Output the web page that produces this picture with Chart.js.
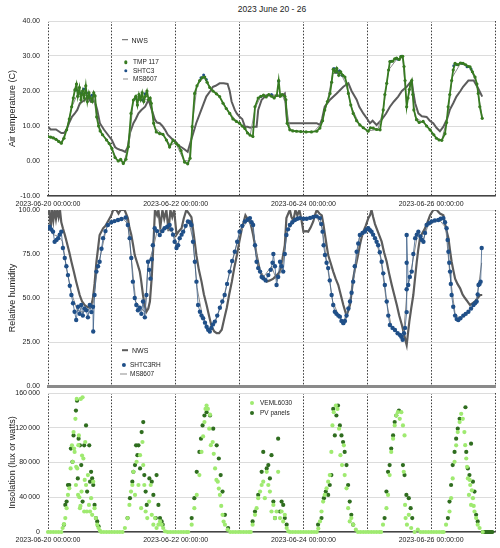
<!DOCTYPE html>
<html><head><meta charset="utf-8">
<script src="https://cdn.jsdelivr.net/npm/chart.js@4.4.1/dist/chart.umd.min.js"></script>
<style>
html,body{margin:0;padding:0;background:#fff;}
body{width:500px;height:548px;position:relative;overflow:hidden;font-family:"Liberation Sans",Arial,sans-serif;color:#222;}
canvas{position:absolute;left:0;}
.lab{position:absolute;white-space:nowrap;line-height:1;font-size:6.5px;transform:translateY(-50%);color:#222;}
.dot{position:absolute;border-radius:50%;transform:translate(-50%,-50%);}
.ln{position:absolute;transform:translateY(-50%);}
#title{position:absolute;top:4.5px;left:0;width:544px;text-align:center;font-size:8.5px;line-height:1;}
</style></head>
<body>
<div id="title">2023 June 20 - 26</div>
<canvas id="c1" width="500" height="212" style="top:0px"></canvas>
<canvas id="c2" width="500" height="185" style="top:205px"></canvas>
<canvas id="c3" width="500" height="160" style="top:388px"></canvas>
<script>
// ---- tick labels (one per day, hours since 2023-06-20 00:00) ----
const dayLabels = ['2023-06-20 00:00:00','','2023-06-22 00:00:00','','2023-06-24 00:00:00','','2023-06-26 00:00:00',''];

// ---- Air temperature (C), [hour, value] ----
const tmp117 = [[0,7],[1,6.8],[2,6.6],[3,6.2],[4,5.6],[5,5.1],[6,6.5],[7,8.9],[8,12],[8.9,15.5],[9.5,18],[10.1,20.3],[10.7,22],[11.2,18.5],[11.8,21],[12.4,17.5],[13,20],[13.6,18],[14.2,21.5],[14.8,17],[15.4,19.5],[16,18],[16.6,17],[17.2,19.5],[17.7,18.6],[18.3,12.6],[19,10],[19.6,8.6],[20.5,7.5],[22,6],[23,5],[24,3.6],[25.2,1],[26.4,0],[27.3,0.5],[28.3,-0.7],[29.3,0.5],[30.2,4.1],[31.2,13.6],[32.1,17.4],[33,18.5],[33.6,16],[34.2,19],[34.8,17.5],[35.4,19.5],[36,17],[36.6,18.5],[37.2,20],[37.8,17.5],[38.4,18],[38.8,16.5],[39.7,10.8],[40.7,8.3],[42,7.8],[43.2,7.6],[44.5,6],[45.7,4],[47,6],[48.2,5],[49,4.5],[50,3],[51.3,-0.3],[52.5,-0.8],[53.4,0.8],[54.2,9.8],[55.1,19.3],[56,21.5],[57,23],[58,23.8],[58.9,24],[59.8,22.5],[60.8,21],[62,20],[63.3,19.2],[64.5,18.4],[65.8,16.5],[67,15],[68.3,13.6],[69.5,12],[70.8,11.3],[72,10.8],[73,10],[74,9.3],[75,8],[75.9,7.4],[77,7],[77.8,15.5],[79,18],[80,18.5],[81,18.8],[82,18.3],[83,19],[84,18.5],[85,18],[86,18.8],[86.7,23],[87.3,18.5],[88,19],[89,18.5],[89.4,17.5],[89.9,10.8],[90.9,8.9],[92,8.6],[93.4,8.5],[95,8.4],[97,8.3],[99,8.3],[101,8.5],[102.2,9.4],[103.2,11.5],[104,14.6],[105,17],[106,19.3],[106.6,22.5],[107.2,26.2],[108,25.5],[108.5,26.5],[109.3,24.5],[110,25.5],[110.8,24.5],[111.6,24],[112.3,22],[112.9,19.3],[113.8,16],[114.7,13.6],[116,11.5],[117.2,10.3],[118.5,9.5],[120.3,8.5],[121.2,9.5],[122.2,9.4],[123.5,9],[124.8,8.9],[126,14.6],[126.6,19],[127.3,22.2],[128,26],[128.5,28.4],[129.5,28.5],[130.3,29.2],[131,29.4],[132,29],[132.6,29.8],[133.3,29.9],[133.8,27],[134.2,23],[134.8,15.5],[135.3,18],[135.8,20.4],[136.2,22],[136.7,23],[137.1,19],[137.5,14.6],[138.5,11.8],[139.5,11],[141,11.3],[142.3,10],[143.6,8.9],[145,7.5],[146,6.5],[147,6],[148,5.9],[149.2,7.8],[149.8,11],[150.4,15.5],[151,19],[151.7,23],[152.3,26],[153,27.9],[154,27.5],[155,28],[156,27.9],[157,27.5],[158,27],[158.6,26.9],[159.5,25.5],[160.5,24],[161.2,22],[161.7,19.3],[162.3,15.5],[163.2,12.2]];
const shtc3Temp = [[10.5,20.3],[11.5,19.8],[12.5,19.3],[13.5,20.6],[14.5,19.4],[15.5,18.4],[16.5,18.8],[33,17.9],[34.5,18.4],[35.5,17.4],[36.5,19.2],[57.5,23.8],[58.5,24.6],[59.5,23.3],[80,18.4],[84,19],[86.7,22.8],[107.5,26.4],[108.5,25.4],[109.5,25.8],[110.5,24.5],[129,28.5],[131.5,29.1],[132.8,29.9],[152.5,27.2],[153.5,27.6],[155.5,27.9],[157.5,26.9],[159,26.3]];
const ms8607Temp = [[0,7.2],[3,6.4],[5,5.3],[7,9],[9,15.5],[11,19],[13,19],[15,18.5],[17,18.5],[18.5,12],[20,8.2],[23,5.2],[26,0.3],[28.5,-0.4],[30.5,5],[32,17],[34,18.5],[36,17.5],[38.5,17.5],[40,9.5],[43,7.8],[46,4.5],[48,5.2],[51,0.2],[53,0],[54.5,12],[56,21.5],[58.5,24],[61,21],[64,18.8],[68,14],[71,11.3],[74,9.3],[76,7.4],[77.8,15],[80,18.5],[84,18.6],[88,18.9],[89.5,16],[91,8.9],[95,8.4],[100,8.4],[103,11],[105,17],[107,25],[110,25],[112,22],[114,15.5],[117,10.5],[120,8.6],[124,9],[126,14.6],[128,26],[131,29],[133.3,29.5],[134.8,16],[136.5,22.5],[138,12.5],[142,10.5],[146,6.5],[148,6],[150,12],[152,24],[155,27.8],[158.5,26.8],[161,22.5],[163.2,12.5]];
const nwsTemp = [[0,9.8],[1,9],[2,9],[3,9],[4,8.5],[5,8],[6,8],[7,9],[8,11],[9,12.6],[10,13.5],[11,14.6],[12,16.5],[13,17],[14,17.5],[15,18.4],[16,17],[17,17.5],[18,16],[18.5,14.6],[19.5,10.8],[21,9],[22,8],[23,7],[24,6],[25.2,4],[26,3.5],[27,3.2],[28,3],[29,2.6],[30,4],[30.8,8],[32.1,10.8],[33,12],[34,13.6],[35,14.5],[36.5,15.5],[37.8,17.5],[39,14.6],[40.2,11.8],[41,11],[42,10.8],[43,10],[44,8.9],[45,7.5],[45.7,7],[47,6],[48,5.5],[49,4.5],[50,4],[51,3.5],[52.5,2.6],[53.8,6],[54.8,8.5],[55.7,10.8],[57.6,14.6],[59.5,18.4],[61,20],[62,21.2],[63,21.5],[64.5,22.2],[66,22.2],[67.5,22],[68.3,20],[69,17],[70.2,14.6],[71,13.5],[72,12.6],[73,12],[74,9.8],[75,9.8],[76,9.5],[77,9.8],[78.4,9.8],[79,14.6],[80.3,17.5],[82,18.8],[84,18.8],[86,18.6],[88.2,18.8],[89,19.3],[89.9,10.8],[92,10.8],[95,10.8],[98,10.8],[101,10.8],[102.2,10.3],[103,12],[104,15.5],[106,17.5],[108.5,19.3],[111,21.2],[112.9,22.2],[114.1,20],[116,17.5],[117,15.5],[118.5,13.6],[120,12],[121,10.8],[122,11.5],[123.5,10.3],[125.4,11.8],[127,13.5],[128.5,15.5],[130,17],[131.6,18.4],[133,20],[134.8,21.2],[136.7,23],[137.2,20],[138,16.5],[139.2,13.6],[140.5,12.8],[142.3,12.6],[143.5,11.5],[144.8,10.8],[146,9.5],[147.3,8.5],[148.6,9.8],[150,12],[151,14.6],[152.3,16.5],[153.5,18.4],[155,20],[156,21.2],[158,23],[160,23],[161.7,20.7],[163.2,18.4]];

// ---- Relative humidity (%), [hour, value] ----
const shtc3RH = [[0,89.6],[0.6,90.5],[1.2,89],[1.9,87.7],[2.5,82],[3.2,83],[3.8,84],[4.4,86],[5,87.7],[5.6,78.4],[6.3,72.7],[6.9,68],[7.5,63],[8.2,57],[8.8,51.7],[9.4,47],[10,42.2],[10.6,37.5],[11.3,45],[11.9,41],[12.5,46],[13.1,40],[13.7,44],[14.4,43],[15,39],[15.7,46],[16.3,42],[16.9,45],[17,31],[17.5,51.7],[18.2,65],[18.8,68],[19.4,70.6],[20.1,78],[20.7,84],[21.6,88],[22.5,91.5],[23.8,93],[25,93.7],[26.3,94.3],[27.6,94.9],[29.2,95.7],[30,91.5],[30.7,84],[31.3,72.7],[31.9,59.3],[32.6,50],[33.2,46],[33.8,43],[34.5,44.5],[35.1,41],[35.7,48],[36.4,39],[37,51.7],[37.6,70.6],[38,66],[38.5,61],[39,72],[39.4,80],[40.1,89.6],[41,88],[42,85.8],[43,88],[43.8,89.6],[44.8,90.5],[45.7,91.5],[46.4,89],[47,86],[47.6,82],[48.3,78.4],[48.9,80],[49.5,84],[50.2,86],[50.8,87.7],[51.7,91],[52.6,93.5],[53.3,93],[53.9,91.5],[54.5,82],[55.2,70.6],[55.8,59.3],[56.4,46],[57.1,42.2],[57.7,40],[58.3,38.5],[59,36],[59.6,33.7],[60.2,32],[60.8,30.9],[61.4,33],[62,35],[62.7,36.6],[63.6,40],[64.6,44.5],[65.5,48],[66.4,51.7],[67.3,58],[68.3,65],[69.2,71],[70.2,76.3],[71.1,82],[72,87.7],[73,91],[74,93.5],[75,94.5],[75.9,95.4],[76.5,93],[77.1,91.5],[77.8,80],[78.4,70.6],[79,67],[79.7,65],[80.3,62],[80.9,61.2],[81.8,60],[82.8,63],[83.7,66],[84.4,70],[84.7,75],[85.3,68],[85.9,57.4],[86.5,62],[87.2,70.6],[87.8,68],[88.4,65],[89,75],[89.6,85.8],[90.2,89],[90.9,91.5],[91.8,93],[92.8,94.3],[93.7,95],[94.6,95.4],[96,95],[97.2,95],[98.5,95.5],[99.7,96],[101,96.4],[102.2,95.4],[102.7,92],[103.2,87.7],[103.6,80],[104.1,74.4],[104.7,70],[105.3,67],[105.9,60],[106.6,51.7],[107.2,46],[107.8,42.2],[108.4,41],[109.1,40],[109.7,39.4],[110.3,37],[111,35.7],[111.6,37],[112.2,40],[112.9,44],[113.5,48],[114.1,53],[114.7,59.3],[115.3,68],[116,76.3],[116.6,81],[117.2,85.8],[118.2,87],[119.1,87.7],[119.7,89],[120.4,89.6],[121,88.5],[121.6,87.7],[122.2,86],[122.9,84],[123.5,82],[124.1,80],[124.7,76],[125.4,70.6],[126,64],[126.6,57.4],[127.3,48],[127.9,40],[128.5,34.7],[129.5,33],[130.4,31.8],[131.4,30],[132.3,29],[132.8,28],[133.3,26.3],[133.8,30],[134.2,33],[134.8,42],[134.8,55],[134.8,70],[134.8,85.8],[135.4,57.4],[136,62],[136.7,65],[137.3,75],[138,84],[138.6,86],[139.2,87.7],[140,85],[140.5,83],[141.1,82],[141.7,87],[142.3,91.5],[143.2,92.5],[144.2,93.5],[145.4,94],[146.7,94.3],[147.6,95],[148.6,95.4],[149.2,93],[149.8,89.6],[150.2,83],[150.5,76.3],[150.8,70],[151.1,65],[151.4,58],[151.7,51.7],[152.3,45],[153,40],[153.6,38],[154.2,37.5],[155,38.5],[156.1,40],[157,41],[158,42.2],[159,44],[159.9,46],[160.5,47],[161.1,48],[161.5,52],[161.8,57.4],[162.2,58],[162.6,59.3],[163,78.4]];
const ms8607RH = [[0,90],[2,86],[4,85],[5.5,82],[7,66],[9,52],[11,43],[13,42],[15,43],[17,47],[18.5,66],[20,76],[22,90],[25,94],[28,95.5],[30,92],[31.5,70],[33,48],[35,44],[36.5,42],[37.5,68],[39.5,78],[41,88],[44,90],[47,87],[48.5,80],[50.5,87],[53,93],[54.5,83],[56,56],[58,40],[60.5,32],[63,37],[66,50],[68,63],[70,75],[72,87],[75,94],[77,90],[79,68],[81,62],[84,68],[86,60],[88,67],[90,88],[93,94.5],[97,95],[101,96],[103,90],[105,68],[107,48],[109,41],[111,36],[113,45],[115,62],[117,84],[120,89],[123,84],[125,73],[127,50],[129,34],[132,29],[133.5,27],[135,55],[137,70],[139,87],[141,83],[143,92],[147,94.5],[149.5,90],[151,64],[153,41],[155,38],[158,42],[161,48],[163,70]];
const nwsRH = [[0,98],[0.5,100],[1,89.6],[1.5,100],[2,94],[2.5,100],[3,95],[3.5,100],[4,96],[4.5,100],[5,93],[5.6,89.6],[6.3,86],[7,82],[8,76],[8.8,70.6],[9.7,65],[10.6,59.3],[11.9,51.7],[12.8,48],[13.8,46],[14.7,45],[15.7,44.5],[16.3,46],[16.9,50],[17.5,58],[18.2,70.6],[18.8,78],[19.4,85.8],[20.7,89.6],[21.6,91],[22.5,93.5],[23.8,97],[24.5,100],[25.7,100],[26.5,98],[27.3,100],[28.8,100],[30,95.4],[30.6,90],[31.3,86],[32,80],[32.6,74.4],[33.5,70],[34.5,65],[35,60],[35.7,51.7],[36.3,46],[37,42.2],[37.7,44],[38.3,48],[39,62],[39.6,80],[40.2,100],[41,97],[41.5,100],[42.2,90],[43,100],[43.7,95],[44.5,100],[45.3,88],[46,100],[46.7,96],[47.4,100],[48.3,86],[49.2,88],[50.2,89.6],[51,95],[52,100],[53,98],[53.9,96],[54.8,86],[55.8,74],[56.7,66],[57.7,59.3],[58.6,52],[59.6,46],[60.5,40],[61.5,33.7],[62.5,31],[63.4,30],[64.3,30],[65.3,32],[66.2,38],[67.2,44.5],[68.1,52],[69.1,59.3],[70,67],[71,74.4],[71.9,82],[72.9,89.6],[74.2,97],[75,95],[75.9,93.5],[76.5,90],[77.1,85.8],[77.8,80],[78.4,74.4],[79,70],[79.7,65],[80.9,62],[82.2,59.3],[83.4,60],[84.7,61],[86,63],[87.2,65],[88.1,72],[89,80],[89.6,95.4],[90.3,98],[90.9,100],[91.5,96],[92.2,94],[93,100],[93.7,97],[94.5,100],[95.3,94],[96,87.7],[97,88],[97.8,87.7],[98.7,90],[99.7,93.5],[100.3,97],[101,100],[102,98],[102.9,97],[103.5,92],[104.1,86],[104.7,80],[105.3,74.4],[106.2,70],[107.2,65],[108.1,61],[109.1,57.4],[110,52],[111,46],[111.6,43],[112.2,40],[112.9,43],[113.5,46],[114.1,53],[114.7,61],[115.3,66],[116,70.6],[116.6,75],[117.2,80],[117.8,84],[118.5,87.7],[119.4,91],[120.4,95.4],[121,97],[121.6,100],[122.2,96],[122.9,92],[123.5,89.6],[124.4,86],[125.4,82],[126.3,76],[127.3,70.6],[128.2,64],[129.2,57.4],[130.1,52],[131.1,46],[132,40],[133,34.7],[133.9,29],[134.5,25],[134.8,23.3],[135.3,30],[135.8,36.6],[136.5,44],[137.3,51.7],[138,62],[138.6,70.6],[139.2,78],[139.8,84],[140.7,87],[141.7,89.6],[142.6,93],[143.6,97],[144.8,100],[146.1,100],[147.3,98],[148.6,97],[149.5,90],[150.5,84],[151.1,77],[151.7,70.6],[152.3,66],[153,61],[153.9,58],[154.9,55.5],[155.8,52],[156.7,50],[157.7,48],[158.6,46],[159.5,47],[160.5,48],[161.5,50],[162.4,51.7],[163.2,51.7]];

// ---- Insolation (lux or watts), [hour, value] ----
const veml6030 = [[0,0],[1,0],[2,0],[3,0],[4,0],[5,0],
[5.5,4600],[6,9000],[6.5,16000],[7,27400],[7.5,42700],[8,50300],[8.5,73200],[9,99800],[9.3,80800],[9.6,115000],[9.8,96000],[10,92200],[10.3,130300],[10.5,54100],[10.6,75000],[10.8,153200],[11,73200],[11.3,42700],[11.4,100000],[11.6,111200],[11.8,40000],[12,27400],[12.2,30000],[12.3,153200],[12.6,46500],[12.8,88000],[13,155000],[13.3,84600],[13.6,23600],[13.8,60000],[14,103600],[14.3,54100],[14.6,23600],[15,65500],[15.4,31200],[15.8,23600],[16.2,38900],[16.6,19800],[17,57900],[17.5,27400],[18,16000],[18.5,8400],[19,4600],[19.5,1500],
[20,0],[21,0],[22,0],[23,0],[24,0],[25,0],[26,0],[27,0],[28,0],
[28.9,4600],[29.9,16000],[30.6,31200],[31.2,46500],[31.7,54100],[32.1,69300],[32.7,42700],[33.3,80800],[34,54100],[34.6,88400],[35,27400],[35.5,103600],[35.8,77000],[36.2,54100],[36.7,23600],[37.3,16000],[38,35000],[38.6,54100],[39,19800],[39.6,8400],[40.2,16000],[40.8,4600],[41.5,8400],[42.1,12200],[42.7,8400],[43.3,4600],[44,800],
[45,0],[46,0],[47,0],[48,0],[49,0],[50,0],[51,0],[52,0],
[52.7,0],[54,8400],[55,27400],[55.9,42700],[56.9,65500],[57.7,92200],[58.3,110000],[58.8,126500],[59.2,141700],[59.6,145500],[60.1,141700],[60.6,118900],[60.9,135000],[61.2,100000],[61.9,103600],[62.3,90000],[62.8,73200],[63.3,60000],[63.8,57900],[64.2,50000],[64.6,42700],[65.1,30000],[65.6,19800],[66,12000],[66.5,8400],[67.5,2700],
[68.5,0],[69.5,0],[70.5,0],[71.5,0],[72.5,0],[73.5,0],[74.5,0],[75.5,0],[76.2,0],
[76.9,8400],[77.8,19800],[78.4,27400],[79,38900],[79.7,46500],[80.3,54100],[80.9,57900],[81.5,38900],[82.2,69300],[82.8,54100],[83.4,46500],[84,23600],[84.7,31200],[85.3,16000],[85.9,23600],[86.5,69300],[87.2,16000],[87.8,23600],[88.4,12200],[89,19800],[89.7,4600],[90.3,800],
[91,0],[92,0],[93,0],[94,0],[95,0],[96,0],[97,0],[98,0],[99,0],[100,0],[101,0],
[101.6,4000],[102.2,12200],[102.8,23600],[103.4,35000],[104,42700],[104.7,50300],[105.3,57900],[105.9,65500],[106.5,92200],[106.9,122700],[107.4,137900],[108.2,145500],[108.8,141700],[109.4,118900],[109.9,88400],[110.5,77000],[111.2,99800],[111.5,65500],[112.2,50300],[112.8,27400],[113.4,12200],[114,16000],[114.7,8400],[115.7,2700],
[116.5,0],[117.5,0],[118.5,0],[119.5,0],[120.5,0],[121.5,0],[122.5,0],[123.5,0],[124.5,0],[125.2,0],
[125.9,8400],[127.2,27400],[127.8,42700],[128.4,65500],[129,92200],[129.7,107400],[130.3,122700],[130.9,134100],[131.5,137900],[132.2,130300],[132.8,137900],[133.4,122700],[133.7,69300],[134,111200],[134.2,31200],[134.4,16000],[134.9,8400],[135.6,19800],[136.5,4600],[137.8,0],[139,2700],
[140,0],[141,0],[142,0],[143,0],[144,0],[145,0],[146,0],[147,0],[148,0],[148.7,0],
[149.6,8400],[150.9,23600],[151.5,38900],[152.1,61700],[152.8,80800],[153.4,99800],[154,115000],[154.7,126500],[155.3,136000],[155.9,130300],[156.5,115000],[156.8,100000],[157.2,84600],[157.5,75000],[157.8,61700],[158.2,42700],[158.5,60000],[158.7,54100],[159,31200],[159.3,48000],[159.7,38900],[160,30000],[160.3,23600],[160.9,16000],[161.5,8400],[162.2,4600],[163.4,0]];
const pvPanels = [[6,8400],[6.5,31200],[7,35000],[7.5,54100],[8,54100],[8.6,96000],[9.2,80800],[9.6,111200],[10.5,139800],[10.9,151200],[11.2,61700],[11.5,107400],[12,99800],[12.5,77000],[13,35000],[13.6,99800],[14.3,122700],[14.7,46500],[15.5,99800],[15.8,57900],[16.2,69300],[16.6,61700],[17,54100],[17.5,31200],[18,16000],[18.5,12200],[19,6500],
[29.9,16000],[30.8,38900],[31.7,57900],[32.1,69300],[32.7,77000],[33.1,99800],[33.6,88400],[34,99800],[34.6,73200],[35.2,115000],[35.8,126500],[36.2,65500],[36.7,46500],[37.1,31200],[38.1,61700],[39,57900],[39.6,42700],[40.5,16000],[40.8,65500],[41.5,31200],[42.1,16000],[42.7,12200],[43.1,8400],
[54,16000],[55,38900],[55.9,69300],[56.9,92200],[57.5,107400],[58.1,122700],[58.8,134100],[59.6,137900],[60.9,134100],[62.1,118900],[63.4,99800],[64.2,84600],[64.9,65500],[65.6,46500],[66.5,19800],[67.7,4600],
[76.9,12200],[77.8,23600],[79,42700],[80.3,69300],[80.9,92200],[82.2,73200],[82.8,77000],[83.4,61700],[84,88400],[84.7,35000],[85.3,16000],[86.5,107400],[87.2,23600],[87.8,35000],[88.4,31200],[89,16000],[89.7,8400],
[101.5,8400],[102.8,16000],[103.7,38900],[104.4,46500],[105.3,42700],[105.9,54100],[106.5,65500],[107.2,141700],[107.8,111200],[108.4,134100],[109,145500],[109.7,122700],[110.3,111200],[110.9,103600],[111.5,92200],[112.2,77000],[112.8,54100],[113.4,35000],[114,19800],[114.7,8400],
[126.5,16000],[127.2,46500],[127.8,69300],[128.4,77000],[129,96000],[129.7,111200],[130.3,126500],[130.9,134100],[131.9,139800],[133.4,77000],[134,65500],[134.7,42700],[135.6,38900],[136.3,27400],[136.9,16000],
[150.3,16000],[150.9,35000],[151.5,54100],[152.1,77000],[152.8,92200],[153.4,107400],[154,118900],[154.7,130300],[156.9,143600],[157.2,92200],[157.8,73200],[158.4,65500],[159,101700],[159.7,57900],[160.3,46500],[160.9,19800],[161.5,12200],
[163.4,0],[163.8,0],[164.2,0],[164.6,0],[165,0],[165.4,0],[165.8,0],[166.2,0],[166.6,0],[167,0]];

// ---- colours ----
const C_TMP = '#377b21', C_SHT = '#1f4f88', C_NWS = '#5c5c5c', C_MS = '#8e8e8e', C_VEML = '#9fea70', C_PV = '#2f6d1f';

Chart.defaults.font.family = '"Liberation Sans", Arial, Helvetica, sans-serif';
Chart.defaults.color = '#222';

function xAxis(showLabels, height, bColor, bWidth){
  return {
    type:'linear', min:0, max:168,
    afterFit: s => { s.height = height; },
    ticks:{ display:showLabels, stepSize:24, autoSkip:false, maxRotation:0, minRotation:0, padding:4,
      font:{size:7}, color:'#222', callback: v => dayLabels[Math.round(v/24)] ?? '' },
    grid:{ color:'#2a2a2a', lineWidth:0.9, drawTicks:false },
    border:{ display:true, color:bColor, width:bWidth, dash:[1.6,1.6] }
  };
}
function yAxis(min, max, step, title, fmt){
  return {
    type:'linear', min, max,
    afterFit: s => { s.width = 48; s.paddingTop = 0; s.paddingBottom = 0; },
    ticks:{ stepSize:step, padding:8, font:{size:7}, color:'#222', callback: fmt },
    grid:{ color:'#dcdcdc', lineWidth:1, drawTicks:false },
    border:{ display:false },
    title:{ display:true, text:title, font:{size:9}, color:'#222', padding:{top:7.6, bottom:0} }
  };
}
function make(id, datasets, x, y, padTop){
  return new Chart(document.getElementById(id), {
    type:'scatter',
    data:{ datasets },
    options:{
      responsive:false, animation:false, devicePixelRatio:1,
      layout:{ padding:{ top:padTop, right:5, left:0, bottom:0 } },
      plugins:{ legend:{display:false}, tooltip:{enabled:false}, title:{display:false} },
      scales:{ x, y },
      elements:{ line:{ tension:0 } }
    }
  });
}
const fmt2 = v => v.toFixed(2);
const fmtInt = v => String(v).replace(/\B(?=(\d{3})+(?!\d))/g, '\u2009');

make('c1', [
  { label:'TMP 117', data:tmp117, showLine:true, borderColor:C_TMP, backgroundColor:C_TMP, borderWidth:1.8, pointRadius:1.6, pointBorderWidth:0, order:1 },
  { label:'SHTC3', data:shtc3Temp, showLine:false, backgroundColor:C_SHT, pointRadius:1.5, pointBorderWidth:0, order:2 },
  { label:'MS8607', data:ms8607Temp, showLine:true, borderColor:C_MS, borderWidth:1, pointRadius:0, order:3 },
  { label:'NWS', data:nwsTemp, showLine:true, borderColor:C_NWS, borderWidth:2, pointRadius:0, order:4 }
], xAxis(true, 16, '#444', 1.5), yAxis(-10, 40, 10, 'Air temperature (C)', fmt2), 21);

make('c2', [
  { label:'SHTC3RH', data:shtc3RH, showLine:true, borderColor:'#3d5f88', borderWidth:0.8, backgroundColor:C_SHT, pointRadius:2.2, pointBorderWidth:0, order:1 },
  { label:'MS8607', data:ms8607RH, showLine:true, borderColor:C_MS, borderWidth:1, pointRadius:0, order:2 },
  { label:'NWS', data:nwsRH, showLine:true, borderColor:C_NWS, borderWidth:2.2, pointRadius:0, order:3 }
], xAxis(false, 4, '#8a8a8a', 3), yAxis(0, 100, 25, 'Relative humidity', fmt2), 5);

make('c3', [
  { label:'VEML6030', data:veml6030, showLine:false, backgroundColor:C_VEML, pointRadius:2.1, pointBorderWidth:0, order:1, clip:4 },
  { label:'PV panels', data:pvPanels, showLine:false, backgroundColor:C_PV, pointRadius:2.1, pointBorderWidth:0, order:2, clip:4 }
], xAxis(true, 16, '#444', 1.5), yAxis(0, 160000, 40000, 'Insolation (lux or watts)', fmtInt), 5);

// ---- legends (HTML) ----
const legendItems = [
  ['line', C_NWS, 'NWS', 121.5, 39.5, 6, 1.6, 131.5, 7],
  ['dot', C_TMP, 'TMP 117', 126, 62.3, 3.4, 0, 133, 6.5],
  ['dot', C_SHT, 'SHTC3', 126, 71, 3.4, 0, 133, 6.5],
  ['line', C_MS, 'MS8607', 122.5, 79.3, 5, 1, 133, 6.5],
  ['line', C_NWS, 'NWS', 121.5, 350, 6.5, 1.6, 132, 7],
  ['dot', C_SHT, 'SHTC3RH', 123.5, 365, 4.2, 0, 130, 6.5],
  ['line', C_MS, 'MS8607', 120, 374, 7, 1, 130, 6.5],
  ['dot', C_VEML, 'VEML6030', 251.7, 403, 4, 0, 260, 6.5],
  ['dot', C_PV, 'PV panels', 251.7, 413, 4, 0, 260, 6.5]
];
for (const [kind, color, text, x, y, size, thick, tx, fs] of legendItems) {
  const m = document.createElement('div');
  if (kind === 'dot') {
    m.className = 'dot';
    Object.assign(m.style, { left:x+'px', top:y+'px', width:size+'px', height:size+'px', background:color });
  } else {
    m.className = 'ln';
    Object.assign(m.style, { left:x+'px', top:y+'px', width:size+'px', height:thick+'px', background:color });
  }
  document.body.appendChild(m);
  const t = document.createElement('div');
  t.className = 'lab';
  t.textContent = text;
  Object.assign(t.style, { left:tx+'px', top:y+'px', fontSize:fs+'px' });
  document.body.appendChild(t);
}
</script>
</body></html>
